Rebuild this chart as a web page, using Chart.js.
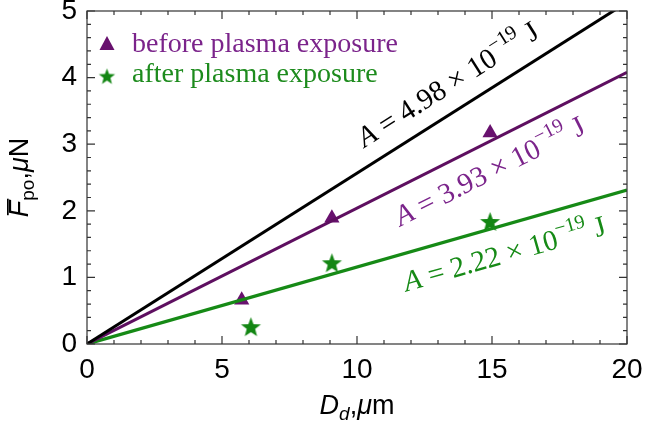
<!DOCTYPE html>
<html>
<head>
<meta charset="utf-8">
<script src="https://cdn.jsdelivr.net/npm/chart.js@4/dist/chart.umd.min.js"></script>
<style>
  html, body { margin: 0; padding: 0; background: #fff; }
  #wrap { width: 668px; height: 429px; }
</style>
</head>
<body>
<div id="wrap"><canvas id="forceChart"></canvas></div>
<script>
const beforeX = [5.73, 9.07, 14.93];
const beforeY = [0.66, 1.89, 3.17];
const afterX = [6.07, 9.07, 14.93];
const afterY = [0.26, 1.22, 1.84];

// fitted lines through the origin (end values at D = 20)
const fitX = [0, 20];
const fitBlack = [0, 5.13];
const fitPurple = [0, 4.08];
const fitGreen = [0, 2.31];
const hamakerValues = ['4.98', '3.93', '2.22'];

const xTicks = [0, 5, 10, 15, 20];
const yTicks = [0, 1, 2, 3, 4, 5];
const legendLabels = ['before plasma exposure', 'after plasma exposure'];

// colours
const purpleLine = '#5e0f60';
const purpleMark = '#68116e';
const purpleText = '#7b248b';
const greenLine = '#168a16';
const greenMark = '#138613';
const greenText = '#1d8b1d';

const toPoints = (xs, ys) => xs.map((x, i) => ({ x: x, y: ys[i] }));

// filled five point star (Chart.js 'star' is only an asterisk)
function makeStar(r, color) {
    const c = document.createElement('canvas');
    c.width = c.height = Math.ceil(r * 2) + 2;
    const g = c.getContext('2d');
    g.fillStyle = color;
    g.beginPath();
    for (let i = 0; i < 10; i++) {
        const rr = i % 2 ? r * 0.42 : r;
        const a = -Math.PI / 2 + i * Math.PI / 5;
        g.lineTo(c.width / 2 + rr * Math.cos(a), c.height / 2 + 1 + rr * Math.sin(a));
    }
    g.closePath();
    g.fill();
    return c;
}
const starImg = makeStar(10.5, greenMark);
const starSmall = makeStar(8.5, greenMark);

// draw a run of text pieces (different fonts / offsets) in one go
function drawRich(ctx, segs, x, y, align) {
    let total = 0;
    segs.forEach(s => { ctx.font = s.font; s.w = ctx.measureText(s.t).width; total += s.w; });
    let cx = align === 'center' ? x - total / 2 : x;
    segs.forEach(s => {
        ctx.font = s.font;
        ctx.fillText(s.t, cx, y + (s.dy || 0));
        if (s.bar) {
            ctx.fillRect(cx + 2, y - 21, s.w, 1.7);
        }
        cx += s.w;
    });
}

const framePlugin = {
    id: 'framePlugin',
    afterDatasetsDraw(chart) {
        const ctx = chart.ctx;
        const a = chart.chartArea;
        const xs = chart.scales.x, ys = chart.scales.y;
        ctx.save();

        // frame
        ctx.strokeStyle = '#333';
        ctx.lineWidth = 1.2;
        ctx.strokeRect(a.left, a.top, a.right - a.left, a.bottom - a.top);

        // inward ticks on all four sides
        ctx.beginPath();
        for (let v = 0; v <= 20; v += 1) {
            const len = v % 5 === 0 ? 8 : 4;
            const px = xs.getPixelForValue(v);
            ctx.moveTo(px, a.bottom); ctx.lineTo(px, a.bottom - len);
            ctx.moveTo(px, a.top); ctx.lineTo(px, a.top + len);
        }
        for (let k = 0; k <= 25; k++) {
            const len = k % 5 === 0 ? 8 : 4;
            const py = ys.getPixelForValue(k * 0.2);
            ctx.moveTo(a.left, py); ctx.lineTo(a.left + len, py);
            ctx.moveTo(a.right, py); ctx.lineTo(a.right - len, py);
        }
        ctx.stroke();

        // labels along the fitted lines
        const fits = [
            { ys: fitBlack, color: '#000', at: [13.55, 3.78], v: hamakerValues[0] },
            { ys: fitPurple, color: purpleText, at: [15.07, 2.47], v: hamakerValues[1] },
            { ys: fitGreen, color: greenLine, at: [15.56, 1.22], v: hamakerValues[2] }
        ];
        fits.forEach(f => {
            const dx = xs.getPixelForValue(fitX[1]) - xs.getPixelForValue(fitX[0]);
            const dy = ys.getPixelForValue(f.ys[1]) - ys.getPixelForValue(f.ys[0]);
            const ang = Math.atan2(dy, dx);
            ctx.save();
            ctx.translate(xs.getPixelForValue(f.at[0]), ys.getPixelForValue(f.at[1]));
            ctx.rotate(ang);
            ctx.fillStyle = f.color;
            ctx.textBaseline = 'alphabetic';
            ctx.textAlign = 'left';
            drawRich(ctx, [
                { t: 'A', font: 'italic 29px "Liberation Serif"' },
                { t: ' = ' + f.v + ' \u00d7 10', font: '29px "Liberation Serif"' },
                { t: '\u221219', font: '20px "Liberation Serif"', dy: -13 },
                { t: ' J', font: '29px "Liberation Serif"' }
            ], 0, 0, 'center');
            ctx.restore();
        });

        // legend inside the frame
        ctx.textBaseline = 'alphabetic';
        ctx.textAlign = 'left';
        const lx = a.left + 20, ly1 = a.top + 33, ly2 = a.top + 65;
        ctx.fillStyle = purpleMark;
        ctx.beginPath();
        ctx.moveTo(lx, ly1 - 8); ctx.lineTo(lx + 7.5, ly1 + 6); ctx.lineTo(lx - 7.5, ly1 + 6);
        ctx.closePath(); ctx.fill();
        ctx.drawImage(starSmall, lx - starSmall.width / 2, ly2 - starSmall.height / 2);
        ctx.font = '28px "Liberation Serif"';
        ctx.fillStyle = purpleText;
        ctx.fillText(legendLabels[0], lx + 25, ly1 + 8);
        ctx.fillStyle = greenText;
        ctx.fillText(legendLabels[1], lx + 25, ly2 + 6);

        // axis titles
        ctx.fillStyle = '#000';
        drawRich(ctx, [
            { t: 'D', font: 'italic 27px "Liberation Sans"' },
            { t: 'd', font: 'italic 19px "Liberation Sans"', dy: 6 },
            { t: ',', font: '27px "Liberation Sans"' },
            { t: '\u03bc', font: 'italic 27px "Liberation Sans"' },
            { t: 'm', font: '27px "Liberation Sans"' }
        ], (a.left + a.right) / 2, 414, 'center');

        ctx.save();
        ctx.translate(28, (a.top + a.bottom) / 2);
        ctx.rotate(-Math.PI / 2);
        drawRich(ctx, [
            { t: 'F', font: 'italic 27px "Liberation Sans"', bar: true },
            { t: 'po', font: '19px "Liberation Sans"', dy: 6 },
            { t: ',', font: '27px "Liberation Sans"' },
            { t: '\u03bc', font: 'italic 27px "Liberation Sans"' },
            { t: 'N', font: '27px "Liberation Sans"' }
        ], 0, 0, 'center');
        ctx.restore();

        ctx.restore();
    }
};

const data = {
    datasets: [
        {
            label: 'A = 4.98',
            data: toPoints(fitX, fitBlack),
            showLine: true,
            borderColor: '#000',
            borderWidth: 3,
            pointRadius: 0
        },
        {
            label: 'A = 3.93',
            data: toPoints(fitX, fitPurple),
            showLine: true,
            borderColor: purpleLine,
            borderWidth: 3,
            pointRadius: 0
        },
        {
            label: 'A = 2.22',
            data: toPoints(fitX, fitGreen),
            showLine: true,
            borderColor: greenLine,
            borderWidth: 3.3,
            pointRadius: 0
        },
        {
            label: legendLabels[0],
            data: toPoints(beforeX, beforeY),
            pointStyle: 'triangle',
            pointRadius: 8.8,
            backgroundColor: purpleMark,
            borderColor: purpleMark,
            borderWidth: 0
        },
        {
            label: legendLabels[1],
            data: toPoints(afterX, afterY),
            pointStyle: starImg,
            backgroundColor: greenMark,
            borderColor: greenMark
        }
    ]
};

const config = {
    type: 'scatter',
    data: data,
    options: {
        responsive: true,
        maintainAspectRatio: false,
        animation: false,
        layout: { padding: { left: 0, right: 41, top: 11, bottom: 0 } },
        plugins: {
            legend: { display: false },
            tooltip: { enabled: false }
        },
        scales: {
            x: {
                type: 'linear',
                min: 0,
                max: 20,
                afterFit: s => { s.height = 85; s.paddingLeft = 0; s.paddingRight = 0; },
                afterBuildTicks: s => { s.ticks = xTicks.map(v => ({ value: v })); },
                grid: { display: false, drawTicks: false },
                border: { display: false },
                ticks: {
                    padding: 9,
                    color: '#000',
                    maxRotation: 0,
                    font: { family: '"Liberation Sans"', size: 28 }
                }
            },
            y: {
                type: 'linear',
                min: 0,
                max: 5,
                afterFit: s => { s.width = 87; s.paddingTop = 0; s.paddingBottom = 0; },
                afterBuildTicks: s => { s.ticks = yTicks.map(v => ({ value: v })); },
                grid: { display: false, drawTicks: false },
                border: { display: false },
                ticks: {
                    padding: 10,
                    color: '#000',
                    font: { family: '"Liberation Sans"', size: 28 }
                }
            }
        }
    },
    plugins: [framePlugin]
};

new Chart(document.getElementById('forceChart'), config);
</script>
</body>
</html>
